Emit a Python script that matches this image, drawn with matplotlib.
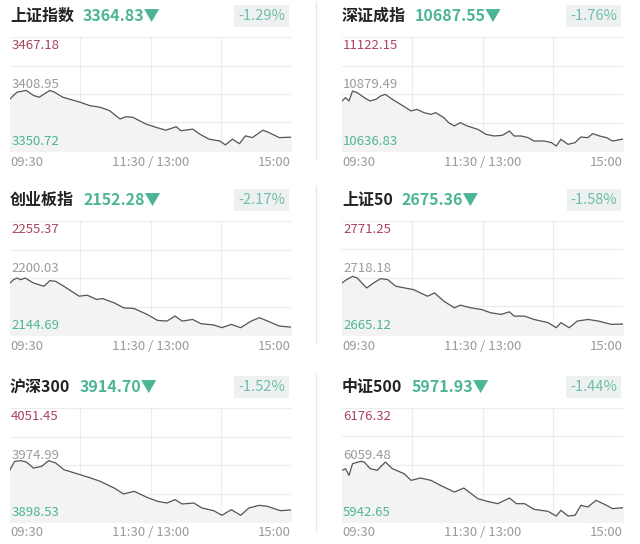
import matplotlib
matplotlib.use("Agg")
from matplotlib import pyplot as plt

plt.rcParams['font.family'] = ['Noto Sans CJK SC', 'DejaVu Sans']

# --- data ---
names = ["上证指数", "深证成指", "创业板指", "上证50", "沪深300", "中证500"]
last = ["3364.83", "10687.55", "2152.28", "2675.36", "3914.70", "5971.93"]
pct = ["-1.29%", "-1.76%", "-2.17%", "-1.58%", "-1.52%", "-1.44%"]
y_hi = [3467.18, 11122.15, 2255.37, 2771.25, 4051.45, 6176.32]
y_mid = [3408.95, 10879.49, 2200.03, 2718.18, 3974.99, 6059.48]
y_lo = [3350.72, 10636.83, 2144.69, 2665.12, 3898.53, 5942.65]
time_ticks = ["09:30", "11:30 / 13:00", "15:00"]

m_sh = [0, 6, 14, 20, 25, 34, 38, 45, 60, 68, 77, 85, 94, 99, 105, 116, 125, 133, 142, 146,
        156, 162, 170, 179, 184, 190, 196, 201, 207, 216, 221, 230, 240]
v_sh = [3404.0, 3410.8, 3412.6, 3407.4, 3405.7, 3412.6, 3410.8, 3405.7, 3400.5, 3397.1, 3395.4,
        3392.0, 3383.4, 3385.8, 3385.1, 3378.3, 3374.8, 3372.0, 3375.5, 3371.4, 3373.1, 3368.0,
        3362.8, 3361.0, 3357.0, 3362.8, 3358.2, 3366.2, 3364.4, 3372.0, 3369.6, 3364.4, 3364.83]

m_sz = [0, 3, 6, 9, 13, 19, 24, 29, 33, 37, 43, 50, 59, 64, 70, 76, 80, 87, 91, 96, 101, 107,
        116, 123, 130, 137, 143, 147, 153, 159, 164, 173, 179, 183, 187, 193, 199, 204, 210, 214,
        220, 226, 231, 240]
v_sz = [10849.7, 10863.9, 10849.7, 10892.3, 10885.2, 10863.9, 10849.7, 10856.8, 10871.0, 10878.1,
        10856.8, 10835.5, 10807.2, 10814.3, 10800.0, 10793.0, 10800.0, 10778.8, 10757.5, 10743.3,
        10757.5, 10743.3, 10729.0, 10707.8, 10700.7, 10703.6, 10722.0, 10700.7, 10700.7, 10693.6,
        10679.4, 10679.4, 10672.3, 10658.1, 10686.5, 10665.2, 10672.3, 10696.4, 10693.6, 10710.6,
        10700.7, 10693.6, 10679.4, 10687.55]

m_cy = [0, 3, 6, 9, 13, 20, 29, 34, 39, 46, 59, 66, 74, 79, 89, 97, 106, 117, 126, 134, 141,
        147, 156, 163, 174, 181, 189, 197, 206, 213, 220, 230, 240]
v_cy = [2195.2, 2198.4, 2200.0, 2198.4, 2200.0, 2195.2, 2192.0, 2197.5, 2196.8, 2192.0, 2182.4,
        2183.3, 2179.2, 2180.1, 2175.9, 2171.1, 2170.4, 2164.7, 2158.9, 2158.2, 2163.1, 2158.2,
        2159.8, 2155.7, 2154.4, 2151.8, 2155.0, 2151.8, 2158.2, 2161.5, 2158.2, 2153.4, 2152.28]

m_50 = [0, 4, 9, 13, 21, 27, 33, 39, 46, 61, 73, 79, 87, 96, 101, 110, 119, 127, 136, 143, 147,
        156, 164, 176, 183, 187, 194, 201, 210, 219, 230, 240]
v_50 = [2713.6, 2716.7, 2719.7, 2718.2, 2708.9, 2713.6, 2717.6, 2716.7, 2710.5, 2707.4, 2701.2,
        2704.3, 2696.6, 2690.4, 2692.9, 2690.4, 2688.9, 2685.8, 2684.3, 2686.7, 2682.7, 2682.7,
        2679.6, 2676.6, 2671.9, 2676.6, 2671.9, 2678.1, 2679.6, 2678.1, 2675.0, 2675.36]

m_300 = [0, 4, 9, 14, 20, 27, 33, 39, 46, 60, 69, 77, 89, 97, 106, 117, 126, 134, 141, 147, 157,
         164, 174, 181, 189, 197, 204, 213, 220, 231, 240]
v_300 = [3968.7, 3979.9, 3980.8, 3979.0, 3970.9, 3973.2, 3980.8, 3977.7, 3968.7, 3962.0, 3957.5,
         3953.1, 3944.1, 3936.1, 3939.7, 3931.6, 3926.3, 3924.0, 3928.5, 3922.7, 3924.0, 3917.3,
         3913.7, 3907.5, 3915.1, 3907.5, 3917.3, 3920.9, 3919.5, 3913.7, 3914.70]

m_500 = [0, 3, 6, 9, 16, 19, 24, 30, 37, 43, 53, 59, 67, 76, 84, 96, 104, 116, 124, 133, 143,
         149, 156, 164, 176, 183, 187, 193, 199, 204, 210, 217, 226, 231, 240]
v_500 = [6048.5, 6052.0, 6038.3, 6062.2, 6067.0, 6065.6, 6052.0, 6048.5, 6065.6, 6052.0, 6041.7,
         6028.0, 6032.8, 6028.0, 6017.8, 6004.1, 6012.3, 5990.5, 5985.0, 5980.2, 5991.8, 5980.2,
         5980.2, 5968.6, 5964.5, 5954.9, 5966.6, 5954.9, 5956.3, 5976.8, 5973.4, 5987.1, 5976.8,
         5970.0, 5971.93]

minutes = [m_sh, m_sz, m_cy, m_50, m_300, m_500]
values = [v_sh, v_sz, v_cy, v_50, v_300, v_500]

W, H = 640, 544
fig = plt.figure(figsize=(6.4, 5.44), dpi=100)
renderer = fig.canvas.get_renderer()

green = '#4db597'
red = '#a8445e'
gray = '#9a9a9a'
col_x = [10, 342]
row_y = [0, 184, 371]

for i in range(6):
    r, c = divmod(i, 2)
    x0 = col_x[c]
    top = row_y[r] + 37
    w, h = 281, 114
    # header
    t = fig.text(x0 / W, 1 - (row_y[r] + 16) / H, names[i], fontsize=11.5, color='#222222',
                 va='center', ha='left', weight='bold')
    name_w = t.get_window_extent(renderer).width
    fig.text((x0 + name_w + 9) / W, 1 - (row_y[r] + 16) / H, last[i] + "▼", fontsize=11.5,
             color=green, va='center', ha='left', weight='bold')
    fig.text((x0 + w - 6) / W, 1 - (row_y[r] + 16) / H, pct[i], fontsize=10.5, color='#6fbfa8',
             va='center', ha='right',
             bbox=dict(boxstyle='square,pad=0.25', fc='#eef1f1', ec='none'))

    ax = fig.add_axes([x0 / W, 1 - (top + h) / H, w / W, h / H])
    ax.set_xlim(0, 240)
    ax.set_ylim(y_lo[i], y_hi[i])
    for s in ax.spines.values():
        s.set_visible(False)
    ax.set_xticks([])
    ax.set_yticks([])
    step = (y_hi[i] - y_lo[i]) / 4
    for k in range(5):
        ax.axhline(y_lo[i] + k * step, color='#ececec', lw=0.8, zorder=0)
    for k in (60, 120, 180):
        ax.axvline(k, color='#ececec', lw=0.8, zorder=0)
    ax.fill_between(minutes[i], values[i], y_lo[i], color='#f3f3f3', zorder=1)
    ax.plot(minutes[i], values[i], color='#555555', lw=0.9, zorder=2)

    ax.text(1, y_hi[i] - step * 0.3, f"{y_hi[i]:.2f}", color=red, fontsize=9.5,
            va='center', ha='left', zorder=3)
    ax.text(1, y_mid[i] + step * 0.35, f"{y_mid[i]:.2f}", color=gray, fontsize=9.5,
            va='center', ha='left', zorder=3)
    ax.text(1, y_lo[i] + step * 0.32, f"{y_lo[i]:.2f}", color=green, fontsize=9.5,
            va='center', ha='left', zorder=3)

    ty = 1 - (top + h + 11) / H
    fig.text(x0 / W, ty, time_ticks[0], color=gray, fontsize=9.5, va='center', ha='left')
    fig.text((x0 + w / 2) / W, ty, time_ticks[1], color=gray, fontsize=9.5, va='center', ha='center')
    fig.text((x0 + w) / W, ty, time_ticks[2], color=gray, fontsize=9.5, va='center', ha='right')

# column dividers
for r in range(3):
    fig.add_artist(plt.Line2D([316 / W, 316 / W], [1 - (row_y[r] + 2) / H, 1 - (row_y[r] + 160) / H],
                              color='#e6e6e6', lw=0.8))

fig.savefig("out.png", dpi=100, facecolor='white')
